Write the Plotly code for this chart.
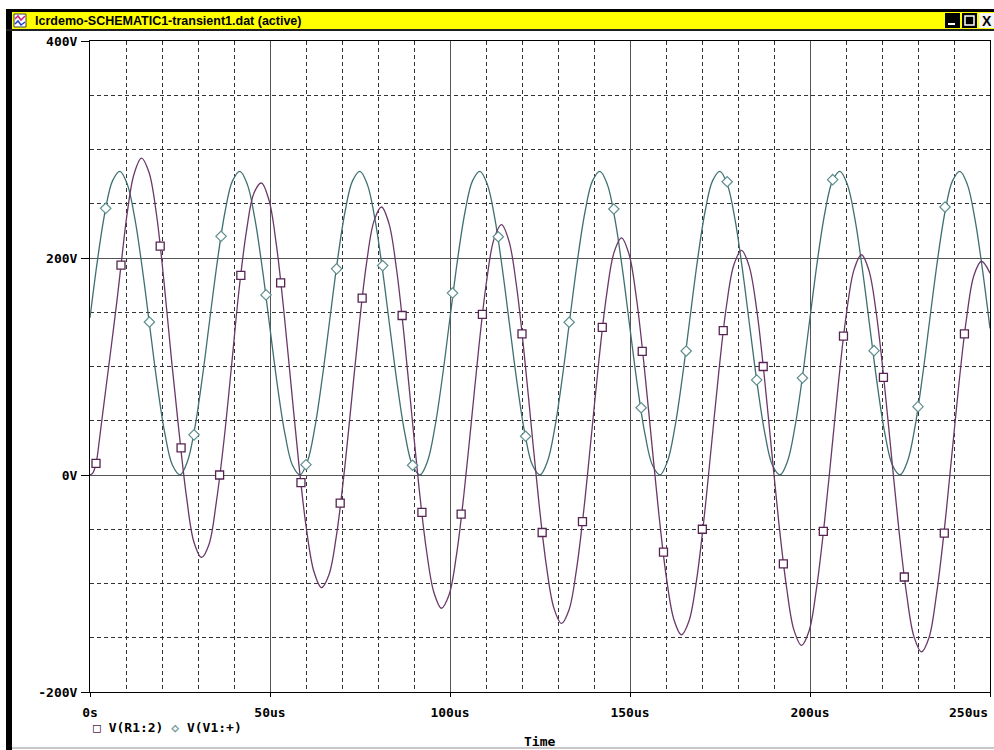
import plotly.graph_objects as go

# ---------------- data (time in microseconds, voltage in volts) ----------------
time_v1 = [0, 2.08, 4.17, 6.25, 8.33, 10.42, 12.5, 14.58, 16.67, 18.75, 20.83, 22.92,
           25, 27.08, 29.17, 31.25, 33.33, 35.42, 37.5, 39.58, 41.67, 43.75, 45.83, 47.92,
           50, 52.08, 54.17, 56.25, 58.33, 60.42, 62.5, 64.58, 66.67, 68.75, 70.83, 72.92,
           75, 77.08, 79.17, 81.25, 83.33, 85.42, 87.5, 89.58, 91.67, 93.75, 95.83, 97.92,
           100, 102.08, 104.17, 106.25, 108.33, 110.42, 112.5, 114.58, 116.67, 118.75, 120.83, 122.92,
           125, 127.08, 129.17, 131.25, 133.33, 135.42, 137.5, 139.58, 141.67, 143.75, 145.83, 147.92,
           150, 152.08, 154.17, 156.25, 158.33, 160.42, 162.5, 164.58, 166.67, 168.75, 170.83, 172.92,
           175, 177.08, 179.17, 181.25, 183.33, 185.42, 187.5, 189.58, 191.67, 193.75, 195.83, 197.92,
           200, 202.08, 204.17, 206.25, 208.33, 210.42, 212.5, 214.58, 216.67, 218.75, 220.83, 222.92,
           225, 227.08, 229.17, 231.25, 233.33, 235.42, 237.5, 239.58, 241.67, 243.75, 245.83, 247.92,
           250]
v_v1 = [144.9, 198.1, 242.4, 271.1, 279.9, 267.4, 235.5, 189.0, 135.1, 81.9, 37.6, 8.9, 0.1, 12.6, 44.5, 91.0,
        144.9, 198.1, 242.4, 271.1, 279.9, 267.4, 235.5, 189.0, 135.1, 81.9, 37.6, 8.9, 0.1, 12.6, 44.5, 91.0,
        144.9, 198.1, 242.4, 271.1, 279.9, 267.4, 235.5, 189.0, 135.1, 81.9, 37.6, 8.9, 0.1, 12.6, 44.5, 91.0,
        144.9, 198.1, 242.4, 271.1, 279.9, 267.4, 235.5, 189.0, 135.1, 81.9, 37.6, 8.9, 0.1, 12.6, 44.5, 91.0,
        144.9, 198.1, 242.4, 271.1, 279.9, 267.4, 235.5, 189.0, 135.1, 81.9, 37.6, 8.9, 0.1, 12.6, 44.5, 91.0,
        144.9, 198.1, 242.4, 271.1, 279.9, 267.4, 235.5, 189.0, 135.1, 81.9, 37.6, 8.9, 0.1, 12.6, 44.5, 91.0,
        144.9, 198.1, 242.4, 271.1, 279.9, 267.4, 235.5, 189.0, 135.1, 81.9, 37.6, 8.9, 0.1, 12.6, 44.5, 91.0,
        144.9, 198.1, 242.4, 271.1, 279.9, 267.4, 235.5, 189.0, 135.1]

time_r1 = [0, 0.8, 1.7, 2.6, 3.5, 4.5, 6.0, 7.5, 8.6, 10.4, 12.2,
           14.3, 16.38, 18.47, 20.55, 22.63, 24.72, 26.8, 28.88, 30.97, 33.05, 35.13, 37.22, 39.3, 41.38, 43.47, 45.55,
           47.63, 49.72, 51.8, 53.88, 55.97, 58.05, 60.13, 62.22, 64.3, 66.38, 68.47, 70.55, 72.63, 74.72, 76.8, 78.88,
           80.97, 83.05, 85.13, 87.22, 89.3, 91.38, 93.47, 95.55, 97.63, 99.72, 101.8, 103.88, 105.97, 108.05, 110.13, 112.22,
           114.3, 116.38, 118.47, 120.55, 122.63, 124.72, 126.8, 128.88, 130.97, 133.05, 135.13, 137.22, 139.3, 141.38, 143.47, 145.55,
           147.63, 149.72, 151.8, 153.88, 155.97, 158.05, 160.13, 162.22, 164.3, 166.38, 168.47, 170.55, 172.63, 174.72, 176.8, 178.88,
           180.97, 183.05, 185.13, 187.22, 189.3, 191.38, 193.47, 195.55, 197.63, 199.72, 201.8, 203.88, 205.97, 208.05, 210.13, 212.22,
           214.3, 216.38, 218.47, 220.55, 222.63, 224.72, 226.8, 228.88, 230.97, 233.05, 235.13, 237.22, 239.3, 241.38, 243.47, 245.55,
           247.63, 250]
v_r1 = [0, 2, 11, 32, 56, 82, 121, 161, 193, 243, 277,
        292, 279, 240.1, 178.2, 106.6, 40, -20, -62, -76, -64, -24, 32, 100, 170, 225, 260,
        269.1, 253.3, 211.4, 150.0, 78.9, 8.9, -49.9, -89.2, -103.8, -91.9, -55.4, 0.6, 67.9, 136.3, 194.8, 234.0,
        247.0, 231.7, 190.1, 129.2, 58.5, -11.2, -69.6, -108.5, -122.8, -110.6, -73.7, -17.3, 50.3, 119.0, 177.9, 217.4,
        230.7, 215.6, 174.4, 113.7, 43.3, -26.1, -84.2, -122.9, -136.8, -124.4, -87.2, -30.6, 37.3, 106.2, 165.3, 205.0,
        218.6, 203.7, 162.7, 102.3, 32.1, -37.1, -95.0, -133.5, -147.3, -134.6, -97.3, -40.5, 27.6, 96.7, 156.0, 194.0,
        207.0, 193.0, 154.1, 93.8, 23.8, -45.3, -103.0, -143.0, -157.0, -144.0, -104.7, -47.8, 20.4, 89.7, 149.1, 189.1,
        203.0, 188.4, 147.7, 87.5, 17.6, -51.3, -109.0, -149.0, -163.0, -150.0, -110.2, -53.2, 15.1, 84.5, 144.0, 184.1,
        197.0, 186.0]

# symbol markers placed along the traces
sq_t = [1.67, 8.61, 19.5, 25.3, 36.0, 41.9, 52.96, 58.6, 69.5, 75.6, 86.7, 92.2, 103.1, 109.0, 120.0,
        125.6, 136.8, 142.3, 153.4, 159.3, 170.1, 175.9, 187.0, 192.6, 203.7, 209.3, 220.4, 226.2, 237.3, 242.9]
sq_v = [10.8, 193.5, 211, 25, 0, 184, 177, -7, -26, 163, 147, -34.4, -36, 148, 130, -53,
        -43, 136, 114, -71, -50, 133, 100, -82, -52, 128, 90, -94, -53.5, 130]

dia_t = [4.36, 16.5, 28.9, 36.4, 48.9, 60.0, 68.5, 81.3, 89.6, 100.7, 113.4, 121.0, 133.1, 145.5,
         153.1, 165.6, 177.0, 185.2, 197.9, 206.3, 217.8, 230.0, 237.5]
dia_v = [245.8, 141, 37, 220, 166, 9.5, 190, 193, 9, 167.7, 219.6, 35.7, 140.8, 245.2,
         62, 114.3, 270.3, 87.6, 89.4, 272.2, 114.6, 63, 247]

x_tick_vals = [0, 50, 100, 150, 200, 250]
x_tick_text = ["0s", "50us", "100us", "150us", "200us", "250us"]
y_tick_vals = [-200, 0, 200, 400]
y_tick_text = ["-200V", "0V", "200V", "400V"]

window_title = "lcrdemo-SCHEMATIC1-transient1.dat (active)"
names = ["V(R1:2)", "V(V1:+)"]

# ---------------- styling ----------------
W, H = 994, 750
L, R, T, B = 90, 4, 41, 58
PW, PH = W - L - R, H - T - B

def px(x):
    return (x - L) / PW

def py(y):
    return (H - B - y) / PH

PURPLE = "#6a3868"
PURPLE_M = "#552452"
TEAL = "#3f7070"
TEAL_M = "#5f8f8f"
MONO = "DejaVu Sans Mono"

fig = go.Figure()
fig.add_trace(go.Scatter(x=time_v1, y=v_v1, mode="lines", line=dict(color=TEAL, width=1.3, shape="spline"),
                         showlegend=False, hoverinfo="skip"))
fig.add_trace(go.Scatter(x=time_r1, y=v_r1, mode="lines", line=dict(color=PURPLE, width=1.3, shape="spline"),
                         showlegend=False, hoverinfo="skip"))
fig.add_trace(go.Scatter(x=dia_t, y=dia_v, mode="markers", name=names[1],
                         marker=dict(symbol="diamond", size=8, color="white", line=dict(color=TEAL_M, width=1.2)),
                         showlegend=False))
fig.add_trace(go.Scatter(x=sq_t, y=sq_v, mode="markers", name=names[0],
                         marker=dict(symbol="square", size=8, color="white", line=dict(color=PURPLE_M, width=1.3)),
                         showlegend=False))

axis_font = dict(family=MONO, size=13, color="black", weight="bold")

# last x label is drawn right-aligned to the axis end (as in the original), the rest by the axis
x_axis_text = x_tick_text[:-1] + [""]

fig.update_xaxes(range=[0, 250], tickmode="array", tickvals=x_tick_vals, ticktext=x_axis_text,
                 showgrid=True, gridcolor="#555555", gridwidth=1,
                 minor=dict(tick0=0, dtick=10, showgrid=True, gridcolor="#333333", griddash="4px,3px",
                            gridwidth=1, ticks=""),
                 ticks="outside", ticklen=4, tickcolor="black", tickwidth=1,
                 showline=True, linecolor="black", linewidth=1, mirror=True,
                 zeroline=False, tickfont=axis_font, ticklabelstandoff=4,
                 automargin=False, fixedrange=True)
fig.update_yaxes(range=[-200, 400], tickmode="array", tickvals=y_tick_vals, ticktext=y_tick_text,
                 showgrid=True, gridcolor="#555555", gridwidth=1,
                 minor=dict(tick0=0, dtick=50, showgrid=True, gridcolor="#333333", griddash="4px,3px",
                            gridwidth=1, ticks=""),
                 ticks="outside", ticklen=8, tickcolor="black", tickwidth=1,
                 showline=True, linecolor="black", linewidth=1, mirror=True,
                 zeroline=False, tickfont=axis_font, ticklabelstandoff=1,
                 automargin=False, fixedrange=True)

shapes = []
def rect(x0, y0, x1, y1, fill, line_color=None, lw=0):
    shapes.append(dict(type="rect", xref="paper", yref="paper",
                       x0=px(x0), x1=px(x1), y0=py(y1), y1=py(y0),
                       fillcolor=fill, line=dict(color=line_color or fill, width=lw), layer="above"))

# window frame
rect(6, 9, 12, 750, "black")
rect(6, 9, 994, 12, "black")
rect(12, 12, 994, 29, "#ffff00")
rect(6, 29, 994, 31, "#202020")
rect(12, 747, 994, 749, "#c8c8c8")
# title icon
rect(14, 14, 26, 27, "white", "#404040", 1)
shapes.append(dict(type="path", xref="paper", yref="paper", layer="above",
                   path=f"M {px(15)},{py(19)} L {px(18)},{py(16)} L {px(21)},{py(20)} L {px(25)},{py(16)}",
                   line=dict(color="#d02080", width=1.5)))
shapes.append(dict(type="path", xref="paper", yref="paper", layer="above",
                   path=f"M {px(15)},{py(24)} L {px(18)},{py(21)} L {px(21)},{py(25)} L {px(25)},{py(22)}",
                   line=dict(color="#2040d0", width=1.5)))
# window buttons
rect(945, 13, 960, 28, "black")
rect(948, 23, 955, 25, "white")
rect(962, 13, 977, 28, "black")
rect(965, 16, 974, 25, "black", "white", 1.5)
rect(979, 13, 994, 28, "#f4f4f4")

annotations = [
    dict(text="<b>" + window_title + "</b>", x=px(33), y=py(21), xref="paper", yref="paper",
         xanchor="left", yanchor="middle", showarrow=False,
         font=dict(family="Liberation Sans", size=12.5, color="black")),
    dict(text="<b>X</b>", x=px(987), y=py(21), xref="paper", yref="paper",
         xanchor="center", yanchor="middle", showarrow=False,
         font=dict(family="Liberation Sans", size=14, color="black")),
    dict(text=x_tick_text[-1], x=x_tick_vals[-1], xref="x", y=py(712), yref="paper",
         xanchor="right", yanchor="middle", showarrow=False, font=axis_font),
    dict(text=f'<span style="color:{PURPLE_M}">\u25a1</span> {names[0]} '
              f'<span style="color:{TEAL_M}">\u25c7</span> {names[1]}',
         x=px(91), y=py(727), xref="paper", yref="paper", xanchor="left", yanchor="middle",
         showarrow=False, font=dict(family=MONO, size=13, color="black", weight="bold")),
    dict(text="Time", x=px(539), y=py(741), xref="paper", yref="paper", xanchor="center",
         yanchor="middle", showarrow=False, font=dict(family=MONO, size=13, color="black", weight="bold")),
]

fig.update_layout(width=W, height=H, margin=dict(l=L, r=R, t=T, b=B, pad=0, autoexpand=False),
                  paper_bgcolor="white", plot_bgcolor="white",
                  font=dict(family=MONO, size=13, color="black"),
                  shapes=shapes, annotations=annotations, showlegend=False)

fig.write_html("out.html", config={"displayModeBar": False},
               post_script="document.body.style.margin='0px';document.body.style.overflow='hidden';")
